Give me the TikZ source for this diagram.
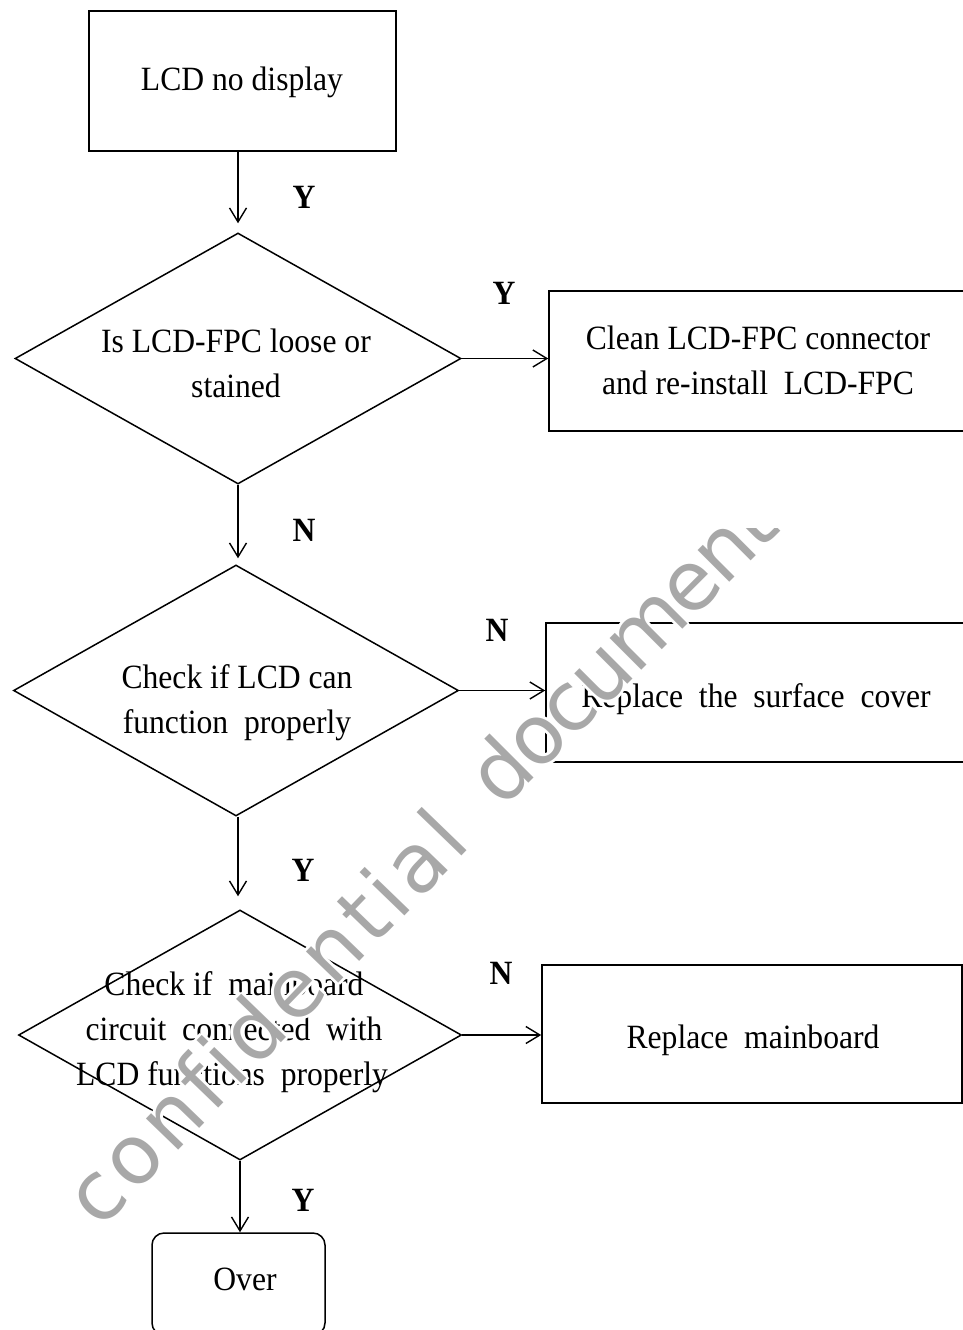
\documentclass[tikz,border=0pt]{standalone}
\usepackage{fontspec}
\setmainfont{Liberation Serif}[FakeStretch=0.93]
\newfontfamily\wmfont{DejaVu Sans}
\usetikzlibrary{shapes.geometric,arrows.meta}
\definecolor{wmgray}{RGB}{168,168,168}
\newcommand\wk{\kern5pt}
\newcommand\wkd{\kern-2.5pt}
\newcommand\wmone{c\wk o\wk n\wk f\wk i\wk d\wk e\wk n\wk t\wk i\wk a\wk l}
\newcommand\wmtwo{d\wkd o\wkd c\wkd u\wkd m\wkd e\wkd n\wkd t}
\tikzset{
  box/.style={draw, line width=1.6pt, minimum width=#1, inner sep=0pt, minimum height=140pt},
  dia/.style={draw, diamond, line width=1.5pt, inner sep=0pt, minimum width=446pt, minimum height=251pt},
  endbox/.style={draw, line width=1.5pt, rounded corners=12pt, inner sep=0pt, minimum width=173pt, minimum height=102pt},
  txt/.style={anchor=base, inner sep=0pt, font=\fontsize{34}{45}\selectfont},
  lab/.style={inner sep=0pt, font=\fontsize{34}{40}\selectfont\bfseries},
  arr/.style={line width=1.5pt, -{Straight Barb[length=14pt,width=17pt,line width=1.4pt]}},
  wm/.style={inner sep=0pt, anchor=base west, text=wmgray, font=\fontsize{82}{90}\wmfont}
}
\begin{document}
\begin{tikzpicture}[x=1pt,y=-1pt]
\useasboundingbox[fill=white] (0,0) rectangle (963,1330);
% boxes
\node[box=307pt] (b1) at (242.5,81) {};
\node[box=420pt] (b2) at (759,361) {};
\node[box=420pt, minimum height=139pt] (b3) at (756,692.5) {};
\node[box=420pt, minimum height=138pt] (b4) at (752,1034) {};
\node[endbox] (ov) at (238.5,1284) {};
% diamonds
\node[dia] (d1) at (238,358.5) {};
\node[dia, minimum width=445pt] (d2) at (236,690.5) {};
\node[dia, minimum width=443pt, minimum height=250pt] (d3) at (240,1035) {};
% texts
\node[txt] (tb1) at (242,90) {LCD no display};
\node[txt] (td1a) at (236,352) {Is LCD-FPC loose or};
\node[txt] (td1b) at (236,397) {stained};
\node[txt] (tb2a) at (758,349) {Clean LCD-FPC connector};
\node[txt] (tb2b) at (758,394) {and re-install\ \ LCD-FPC};
\node[txt] (td2a) at (237,688) {Check if LCD can};
\node[txt] (td2b) at (237,733) {function\ \ properly};
\node[txt] (tb3) at (756,707) {Replace\ \ the\ \ surface\ \ cover};
\node[txt] (td3a) at (234,995) {Check if\ \ mainboard};
\node[txt] (td3b) at (234,1040) {circuit\ \ connected\ \ with};
\node[txt] (td3c) at (232,1085) {LCD functions\ \ properly};
\node[txt] (tb4) at (753,1048) {Replace\ \ mainboard};
\node[txt] (tov) at (245,1290) {Over};
% labels
\node[lab] (l1) at (304,197) {Y};
\node[lab] (l2) at (504,293) {Y};
\node[lab] (l3) at (304,530) {N};
\node[lab] (l4) at (497,630) {N};
\node[lab] (l5) at (303,870) {Y};
\node[lab] (l6) at (501,973) {N};
\node[lab] (l7) at (303,1200) {Y};
% connectors
\draw[arr] (b1.south -| d1.north) -- ([yshift=9pt]d1.north);
\draw[arr] (d1.east) -- (d1.east -| b2.west);
\draw[arr] (d1.south) -- ([yshift=6pt]d1.south |- d2.north);
\draw[arr] (d2.east) -- (d2.east -| b3.west);
\draw[arr] (d1.south |- d2.south) -- ([yshift=13pt]d1.south |- d3.north);
\draw[arr] (d3.east) -- (d3.east -| b4.west);
\draw[arr] (d3.south) -- (d3.south |- ov.north);
% watermark with white halo
\begin{scope}
\clip (0,528) rectangle (963,1330);
\foreach \a in {0,45,...,315}{
  \node[wm, text=white, rotate=46] (wmha\a) at ([shift={(\a:2.8pt)}]100,1231) {\wmone};
  \node[wm, text=white, rotate=45] (wmhb\a) at ([shift={(\a:2.8pt)}]502,810) {\wmtwo};
}
\node[wm, rotate=46] (wmka) at (100,1231) {\wmone};
\node[wm, rotate=45] (wmkb) at (502,810) {\wmtwo};
\end{scope}
\end{tikzpicture}
\end{document}
